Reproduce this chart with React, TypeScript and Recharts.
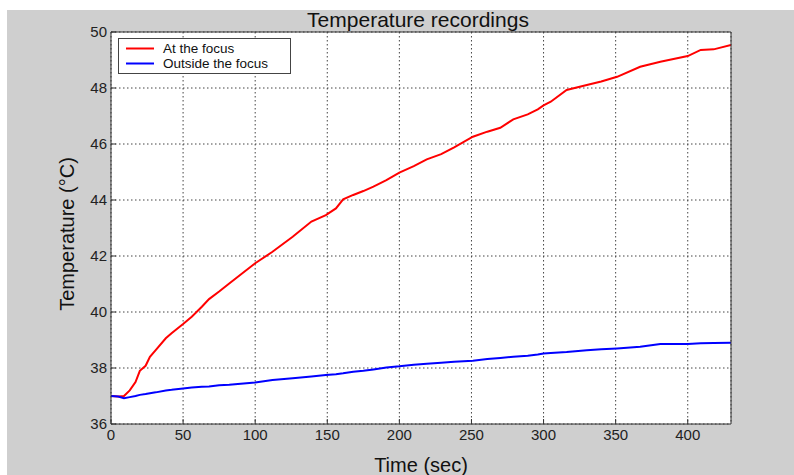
import React from 'react';
import { LineChart, Line, XAxis, YAxis, CartesianGrid } from 'recharts';

const times = [0, 5, 9, 13, 17, 20, 24, 27, 31, 38, 42, 50, 56, 63, 68, 75, 82, 88, 100, 112, 126, 139, 149, 156, 161, 168, 175, 182, 191, 200, 210, 219, 229, 238, 251, 261, 270, 279, 289, 296, 300, 305, 316, 330, 340, 351, 367, 381, 400, 409, 418, 430];
const atFocus = [37.0, 36.98, 37.0, 37.2, 37.5, 37.9, 38.08, 38.4, 38.64, 39.06, 39.24, 39.57, 39.83, 40.19, 40.46, 40.73, 41.02, 41.26, 41.74, 42.15, 42.69, 43.23, 43.46, 43.7, 44.02, 44.18, 44.32, 44.48, 44.71, 44.98, 45.21, 45.45, 45.64, 45.88, 46.26, 46.44, 46.58, 46.88, 47.06, 47.24, 47.38, 47.51, 47.93, 48.11, 48.23, 48.4, 48.76, 48.94, 49.14, 49.36, 49.38, 49.54];
const outsideFocus = [37.0, 36.98, 36.92, 36.96, 37.0, 37.04, 37.07, 37.1, 37.13, 37.2, 37.22, 37.27, 37.3, 37.33, 37.34, 37.38, 37.4, 37.43, 37.48, 37.57, 37.63, 37.7, 37.75, 37.78, 37.81, 37.87, 37.9, 37.95, 38.02, 38.06, 38.12, 38.15, 38.19, 38.22, 38.26, 38.32, 38.36, 38.4, 38.44, 38.48, 38.52, 38.54, 38.57, 38.63, 38.67, 38.7, 38.76, 38.86, 38.86, 38.88, 38.89, 38.9];
const xTicks = [0, 50, 100, 150, 200, 250, 300, 350, 400];
const yTicks = [36, 38, 40, 42, 44, 46, 48, 50];
const seriesNames = ['At the focus', 'Outside the focus'];
const seriesKeys = ['focus', 'outside'];
const seriesColors = ['#ff0000', '#0000ff'];

const data = times.map((t, i) => ({ t, focus: atFocus[i], outside: outsideFocus[i] }));

const FONT = '"Liberation Sans", Arial, Helvetica, sans-serif';
const AXIS = '#333';

const LegendBox = () => (
  <div
    style={{
      position: 'absolute',
      left: 118,
      top: 38,
      width: 173,
      height: 36,
      boxSizing: 'border-box',
      border: '1px solid #444',
      background: '#fff',
      padding: '2px 0 0 7px',
      fontFamily: FONT,
      fontSize: 13.5,
      color: '#111',
    }}
  >
    {seriesNames.map((name, i) => (
      <div key={name} style={{ display: 'flex', alignItems: 'center', height: 15, lineHeight: '15px' }}>
        <svg width={28} height={15} style={{ marginRight: 9, flex: 'none' }}>
          <line x1={0} x2={28} y1={7.5} y2={7.5} stroke={seriesColors[i]} strokeWidth={2} />
        </svg>
        <span style={{ whiteSpace: 'nowrap' }}>{name}</span>
      </div>
    ))}
  </div>
);

export default function App() {
  return (
    <div style={{ position: 'absolute', left: 0, top: 0, width: 794, height: 475, background: '#fff', overflow: 'hidden' }}>
      <div style={{ position: 'absolute', left: 7, top: 10, width: 787, height: 465, background: '#cfcfcf' }} />
      <div style={{ position: 'absolute', left: 0, top: 0 }}>
        <LineChart width={794} height={475} data={data} margin={{ top: 12, right: 43, bottom: 21, left: 71 }}>
          <CartesianGrid stroke="#444" strokeDasharray="1.5 2.5" fill="#fff" />
          <XAxis
            dataKey="t"
            type="number"
            domain={[0, 430]}
            ticks={xTicks}
            allowDataOverflow
            height={30}
            stroke={AXIS}
            tickSize={-5}
            tickMargin={10}
            tick={{ fill: '#222', fontSize: 15, fontFamily: FONT }}
            label={{
              content: (p: any) => {
                const vb = p.viewBox;
                return (
                  <text x={vb.x + vb.width / 2} y={472} textAnchor="middle" fontSize={20} fontFamily={FONT} fill="#111">
                    Time (sec)
                  </text>
                );
              },
            }}
          />
          <XAxis
            xAxisId="top"
            orientation="top"
            dataKey="t"
            type="number"
            domain={[0, 430]}
            ticks={xTicks}
            allowDataOverflow
            height={20}
            stroke={AXIS}
            tickSize={-5}
            tick={false}
            label={{
              content: (p: any) => {
                const vb = p.viewBox;
                return (
                  <text x={vb.x + vb.width / 2 - 3} y={27} textAnchor="middle" fontSize={21} fontFamily={FONT} fill="#111">
                    Temperature recordings
                  </text>
                );
              },
            }}
          />
          <YAxis
            type="number"
            domain={[36, 50]}
            ticks={yTicks}
            allowDataOverflow
            width={40}
            stroke={AXIS}
            tickSize={-5}
            tickMargin={9}
            tick={{ fill: '#222', fontSize: 15, fontFamily: FONT }}
            label={{
              content: (p: any) => {
                const vb = p.viewBox;
                const cx = vb.x + 3;
                const cy = vb.y + vb.height / 2 + 6;
                return (
                  <text x={cx} y={cy} transform={`rotate(-90 ${cx} ${cy})`} textAnchor="middle" fontSize={20} fontFamily={FONT} fill="#111">
                    Temperature (°C)
                  </text>
                );
              },
            }}
          />
          <YAxis
            yAxisId="right"
            orientation="right"
            type="number"
            domain={[36, 50]}
            ticks={yTicks}
            allowDataOverflow
            width={20}
            stroke={AXIS}
            tickSize={-5}
            tick={false}
          />
          {seriesKeys.map((k, i) => (
            <Line
              key={k}
              type="linear"
              dataKey={k}
              name={seriesNames[i]}
              stroke={seriesColors[i]}
              strokeWidth={2}
              dot={false}
              isAnimationActive={false}
            />
          ))}
        </LineChart>
      </div>
      <LegendBox />
    </div>
  );
}
